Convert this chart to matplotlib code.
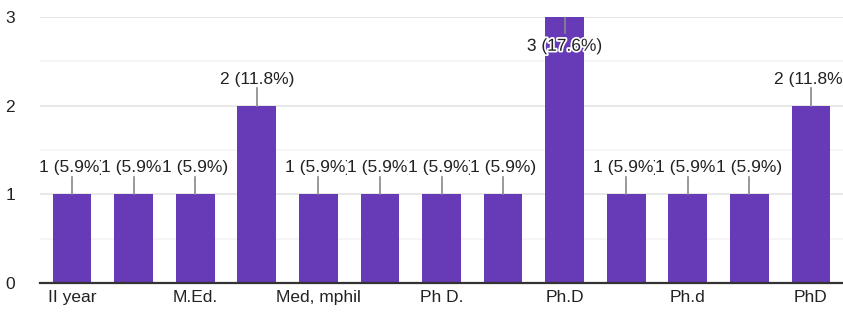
import matplotlib
matplotlib.use("Agg")
import matplotlib.pyplot as plt
import matplotlib.patheffects as pe
import numpy as np

# 13 answers; the chart only prints every other category name
categories = ["II year", "", "M.Ed.", "", "Med, mphil", "", "Ph D.", "",
              "Ph.D", "", "Ph.d", "", "PhD"]
counts = [1, 1, 1, 2, 1, 1, 1, 1, 3, 1, 1, 1, 2]
yticks = [0, 1, 2, 3]

PURPLE = "#673ab7"
TXT = "#222222"
FS = 12.5
total = sum(counts)

plt.rcParams["font.family"] = ["Liberation Sans", "DejaVu Sans"]
fig = plt.figure(figsize=(8.43, 3.14), dpi=100)
ax = fig.add_axes([40 / 843, 31 / 314, 803 / 843, 266 / 314])

x = np.arange(len(counts))
ax.bar(x, counts, width=0.63, color=PURPLE, zorder=2)

ax.set_ylim(0, 3)
ax.set_xlim(-0.52, len(counts) - 0.48)
ax.set_yticks(yticks)
ax.set_yticks([0.5, 1.5, 2.5], minor=True)
ax.grid(axis="y", which="major", color="#e6e6e6", lw=1.3, zorder=0)
ax.grid(axis="y", which="minor", color="#f4f4f4", lw=1.3, zorder=0)
ax.set_xticks(x)
ax.set_xticklabels(categories)
ax.tick_params(axis="both", which="both", length=0, labelsize=FS, labelcolor=TXT)
ax.tick_params(axis="x", pad=5)
ax.tick_params(axis="y", pad=18)
for lab in ax.get_yticklabels():
    lab.set_horizontalalignment("right")
for s in ["left", "right", "top"]:
    ax.spines[s].set_visible(False)
ax.spines["bottom"].set_color("#333333")
ax.spines["bottom"].set_linewidth(1.6)
ax.spines["bottom"].set_zorder(5)

ymax = ax.get_ylim()[1]
for i, v in enumerate(counts):
    label = f"{v} ({v / total * 100:.1f}%)"
    if v < ymax:
        ax.plot([i, i], [v, v + 0.2], color="#888888", lw=1.2, zorder=3, clip_on=False)
        ax.text(i, v + 0.3, label, ha="center", va="center", fontsize=FS,
                color=TXT, zorder=4 + i,
                bbox=dict(facecolor="white", edgecolor="none", pad=0))
    else:
        ax.plot([i, i], [v, v - 0.18], color="#888888", lw=1.2, zorder=3)
        t = ax.text(i, v - 0.33, label, ha="center", va="center", fontsize=FS,
                    color=TXT, zorder=4 + i)
        t.set_path_effects([pe.withStroke(linewidth=2.5, foreground="white")])

fig.savefig("out.png", dpi=100)
